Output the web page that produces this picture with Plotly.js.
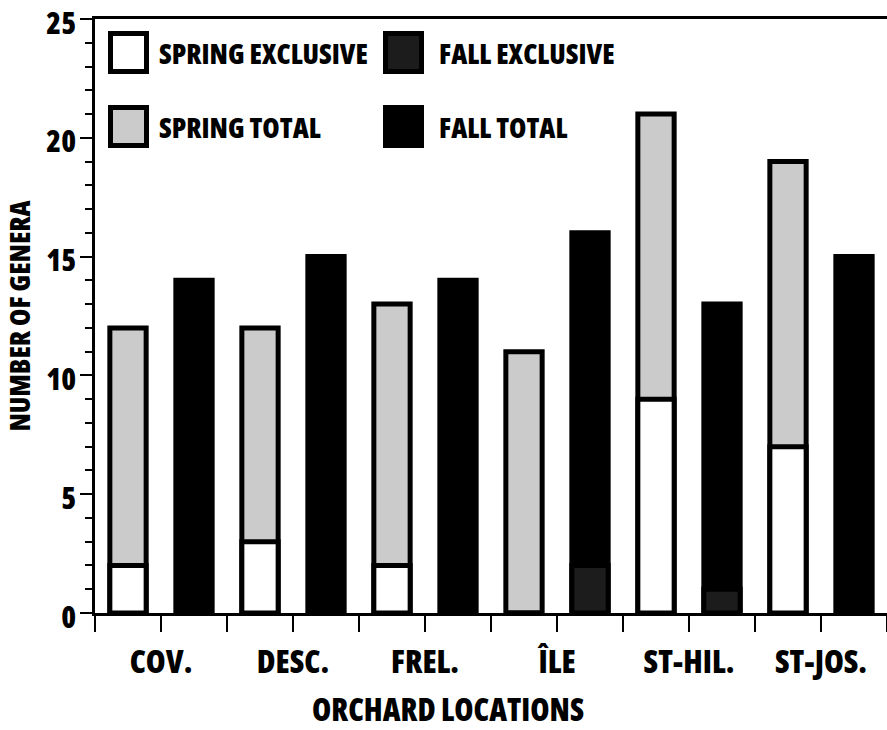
<!DOCTYPE html>
<html>
<head>
<meta charset="utf-8">
<script src="https://cdn.plot.ly/plotly-3.0.1.min.js"></script>
<style>
html,body{margin:0;padding:0;background:#fff;}
#chart{width:887px;height:730px;}
svg text{font-stretch:75% !important;}
</style>
</head>
<body>
<div id="chart"></div>
<script>
// ---- data ----
const categories = ['COV.', 'DESC.', 'FREL.', 'ÎLE', 'ST-HIL.', 'ST-JOS.'];
const springTotal = [12, 12, 13, 11, 21, 19];
const springExclusive = [2, 3, 2, 0, 9, 7];
const fallTotal = [14, 15, 14, 16, 13, 15];
const fallExclusive = [0, 0, 0, 2, 1, 0];
const legendLabels = ['SPRING EXCLUSIVE', 'FALL EXCLUSIVE', 'SPRING TOTAL', 'FALL TOTAL'];
const xTitle = 'ORCHARD LOCATIONS';
const yTitle = 'NUMBER OF GENERA';

// ---- styling ----
const FONT = 'Open Sans, sans-serif';
const WEIGHT = 800;
const xs = categories.map((_, i) => i);
const BW = 0.275;
const LW = 5;
const GRAY = '#cbcbcb';
const DARK = '#1c1c1c';

function barTrace(y, fill, offset, name) {
  return {
    type: 'bar', x: xs, y: y, name: name,
    width: BW, offset: offset,
    marker: { color: fill, line: { color: '#000', width: LW } },
    hoverinfo: 'skip', showlegend: false
  };
}

const traces = [
  barTrace(springTotal, GRAY, -0.25 - BW / 2, legendLabels[2]),
  barTrace(springExclusive, '#ffffff', -0.25 - BW / 2, legendLabels[0]),
  barTrace(fallTotal, '#000000', 0.25 - BW / 2, legendLabels[3]),
  barTrace(fallExclusive, DARK, 0.25 - BW / 2, legendLabels[1])
];

// tick positions at category centres and boundaries
const tickVals = [];
const tickText = [];
for (let i = -1; i < categories.length; i++) {
  if (i >= 0) { tickVals.push(i); tickText.push(categories[i]); }
  tickVals.push(i + 0.5); tickText.push('');
}

// legend drawn with paper-coordinate shapes
const L = 95, R = 887, T = 19, B = 613;
const px = v => (v - L) / (R - L);
const py = v => (B - v) / (B - T);
const legendItems = [
  { label: legendLabels[0], fill: '#ffffff', bx: 108, tx: 157, by: 31 },
  { label: legendLabels[1], fill: DARK, bx: 383, tx: 437, by: 31 },
  { label: legendLabels[2], fill: GRAY, bx: 108, tx: 157, by: 105 },
  { label: legendLabels[3], fill: '#000000', bx: 383, tx: 437, by: 105 }
];
const shapes = [];
const annotations = [];
legendItems.forEach(it => {
  const w = 41, hgt = 43, h = LW / 2;
  shapes.push({
    type: 'rect', xref: 'paper', yref: 'paper',
    x0: px(it.bx + h), x1: px(it.bx + w - h),
    y0: py(it.by + h), y1: py(it.by + hgt - h),
    fillcolor: it.fill, line: { color: '#000', width: LW }
  });
  annotations.push({
    xref: 'paper', yref: 'paper', x: px(it.tx), y: py(it.by + hgt / 2),
    xanchor: 'left', yanchor: 'middle', showarrow: false,
    text: it.label, font: { family: FONT, size: 28, weight: WEIGHT, color: '#000' }
  });
});
annotations.push({
  xref: 'paper', yref: 'paper', x: px(448), y: py(709),
  xanchor: 'center', yanchor: 'middle', showarrow: false,
  text: xTitle, font: { family: FONT, size: 31, weight: WEIGHT, color: '#000' }
});

const layout = {
  width: 887, height: 730,
  margin: { l: L, r: 887 - R, t: T, b: 730 - B, pad: 0 },
  paper_bgcolor: '#fff', plot_bgcolor: '#fff',
  barmode: 'overlay',
  font: { family: FONT, color: '#000' },
  xaxis: {
    range: [-0.5, categories.length - 0.5],
    tickmode: 'array', tickvals: tickVals, ticktext: tickText,
    ticks: 'outside', ticklen: 16, tickwidth: 2, tickcolor: '#000',
    ticklabelstandoff: 3,
    showline: true, linecolor: '#000', linewidth: 3, mirror: true,
    showgrid: false, zeroline: false,
    tickfont: { family: FONT, size: 32, weight: WEIGHT, color: '#000' }
  },
  yaxis: {
    range: [0, 25], dtick: 5, tick0: 0,
    ticks: 'outside', ticklen: 12, tickwidth: 2, tickcolor: '#000',
    ticklabeloverflow: 'allow', ticklabelstandoff: -2, ticklabelshift: 4,
    minor: { dtick: 1, ticks: 'outside', ticklen: 7, tickwidth: 2, tickcolor: '#000' },
    showline: true, linecolor: '#000', linewidth: 3, mirror: false,
    showgrid: false, zeroline: false,
    tickfont: { family: FONT, size: 30, weight: WEIGHT, color: '#000' },
    title: { text: yTitle, standoff: 14, font: { family: FONT, size: 28, weight: WEIGHT, color: '#000' } }
  },
  shapes: shapes,
  annotations: annotations
};

Plotly.newPlot('chart', traces, layout, { staticPlot: true, displayModeBar: false });
</script>
</body>
</html>
